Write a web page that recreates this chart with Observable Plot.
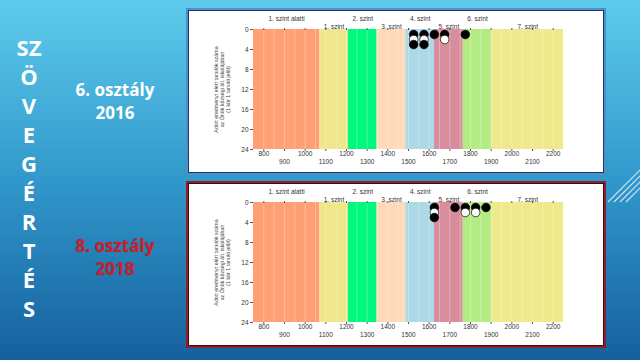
<!DOCTYPE html>
<html><head><meta charset="utf-8">
<script src="https://cdn.jsdelivr.net/npm/d3@7"></script>
<script src="https://cdn.jsdelivr.net/npm/@observablehq/plot@0.6"></script>
<style>
html,body{margin:0;padding:0;width:640px;height:360px;overflow:hidden}
body{background:linear-gradient(180deg,#5ECBEC 0%,#3198CB 50%,#16609D 100%);position:relative;font-family:"Open Sans",sans-serif}
.vert{position:absolute;left:12px;top:33px;width:34px;color:#fff;font-weight:700;font-size:22px;line-height:29px;text-align:center}
.lab{position:absolute;left:58px;width:114px;text-align:center;font-weight:700;font-size:17px;line-height:23px;color:#fff}
.red{color:#C8202C;text-shadow:0 0 1px rgba(120,0,0,0.4)}
.panel{position:absolute;left:188px;width:414px;height:161px;background:#fff}
#p1{top:10px;border:1px solid #1d3a66;box-shadow:0 0 0 2px #4d8fc7}
#p2{top:183px;border:1px solid #3a0a10;box-shadow:0 0 0 2px #8e1f2b}
#deco{position:absolute;left:604px;top:160px}
</style>
</head><body>
<div class="vert" id="vert"></div>
<div class="lab" style="top:78px">6. osztály<br>2016</div>
<div class="lab red" style="top:234px">8. osztály<br>2018</div>
<div class="panel" id="p1"></div>
<div class="panel" id="p2"></div>
<svg id="deco" width="36" height="46">
  <g stroke="#fff" stroke-opacity="0.75" stroke-width="1.2">
    <line x1="4" y1="42" x2="40" y2="6"/>
    <line x1="10" y1="42" x2="40" y2="12"/>
    <line x1="16" y1="42" x2="40" y2="18"/>
    <line x1="22" y1="42" x2="40" y2="24"/>
  </g>
</svg>
<script>
const titleLetters = ["SZ","Ö","V","E","G","É","R","T","É","S"];
const levelNames = ["1. szint alatti","1. szint","2. szint","3. szint","4. szint","5. szint","6. szint","7. szint"];
const levelBounds = [750,1070,1209,1348,1487,1626,1765,1904,2250];
const levelColors = ["#FF9F74","#F0E68C","#00F87C","#FFDAB9","#ADD8E6","#D98D9C","#B4EC84","#F0E98C"];
const xTicksUpper = [800,1000,1200,1400,1600,1800,2000,2200];
const xTicksLower = [900,1100,1300,1500,1700,1900,2100];
const yTicks = [0,4,8,12,16,20,24];
const bins2016 = [1525,1575,1625,1675,1775];
const counts2016 = [3,3,1,2,1];
const bins2018 = [1625,1725,1775,1825,1875];
const counts2018 = [3,1,2,2,1];
const yLabelLines = ["Adott eredményt elért tanulók száma","az Önök községi ált. iskolájában","(1 kör 1 tanuló jelöl)"];

document.getElementById("vert").innerHTML = titleLetters.map(l => `<div>${l}</div>`).join("");

function chart(bins, counts) {
  const bands = levelNames.map((name, i) => ({name, x1: levelBounds[i], x2: levelBounds[i + 1], row: i % 2}));
  const dots = [];
  bins.forEach((b, i) => { for (let k = 1; k <= counts[i]; k++) dots.push({x: b, y: k, kind: k % 2 === 1 ? "fekete" : "fehér"}); });
  dots.sort((a, b) => a.y - b.y);
  const allTicks = xTicksUpper.concat(xTicksLower).sort((a, b) => a - b);
  const fmt = d => String(d);
  return Plot.plot({
    width: 414, height: 161,
    marginLeft: 64, marginRight: 40, marginTop: 18, marginBottom: 23,
    x: {domain: [750, 2250]},
    y: {domain: [0, 24], reverse: true},
    color: {domain: levelNames, range: levelColors},
    style: {fontFamily: "'Liberation Sans', Arial, sans-serif", fontSize: "6.5px", color: "#333", background: "#fff"},
    marks: [
      Plot.rect(bands, {x1: "x1", x2: "x2", y1: () => 0, y2: () => 24, fill: "name"}),
      Plot.ruleX(d3.range(800, 2250, 50), {stroke: "#fff", strokeOpacity: 0.35, strokeWidth: 0.8}),
      Plot.axisY({ticks: yTicks, tickSize: 3, tickPadding: 2, label: null, stroke: "#555", tickFormat: fmt}),
      Plot.axisX({ticks: allTicks, tickSize: 2, tickFormat: () => "", label: null, stroke: "#555"}),
      Plot.axisX({anchor: "top", ticks: allTicks, tickSize: 2, tickFormat: () => "", label: null, stroke: "#555"}),
      Plot.axisX({ticks: xTicksUpper, tickSize: 0, tickPadding: 2, label: null, tickFormat: fmt}),
      Plot.axisX({ticks: xTicksLower, tickSize: 0, tickPadding: 10, label: null, tickFormat: fmt}),
      Plot.text(bands.filter(d => d.row === 0), {x: d => (d.x1 + d.x2) / 2, text: "name", frameAnchor: "top", dy: -13, fill: "#333"}),
      Plot.text(bands.filter(d => d.row === 1), {x: d => (d.x1 + d.x2) / 2, text: "name", frameAnchor: "top", dy: -5, fill: "#333"}),
      Plot.text([yLabelLines.join("\n")], {frameAnchor: "left", textAnchor: "middle", rotate: -90, dx: -31, fontSize: 5.3, lineHeight: 1.12, fill: "#444"}),
      Plot.dot(dots, {x: "x", y: "y", r: 4.3, fill: d => d.kind === "fekete" ? "#000" : "#fff", stroke: "#000", strokeWidth: 0.7})
    ]
  });
}
document.getElementById("p1").append(chart(bins2016, counts2016));
document.getElementById("p2").append(chart(bins2018, counts2018));
</script>
</body></html>
